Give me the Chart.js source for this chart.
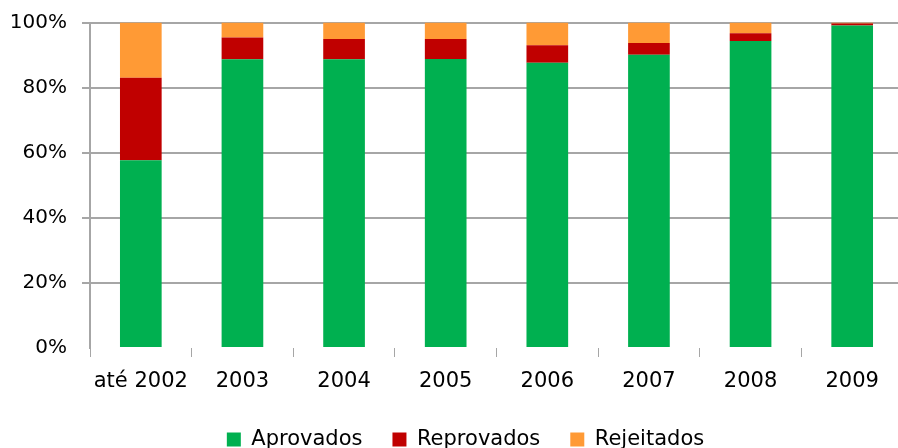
<!DOCTYPE html>
<html>
<head>
<meta charset="utf-8">
<script src="https://cdn.jsdelivr.net/npm/chart.js@4/dist/chart.umd.min.js"></script>
<style>
  html, body { margin: 0; padding: 0; background: #fff; overflow: hidden; }
  #wrap { width: 898px; height: 448px; overflow: hidden; }
</style>
</head>
<body>
<div id="wrap"><canvas id="chart" width="903" height="470"></canvas></div>
<script>
// Data (percent of each year)
const categories = ['até 2002', '2003', '2004', '2005', '2006', '2007', '2008', '2009'];
const aprovados  = [57.7, 88.7, 88.7, 88.8, 87.6, 90.1, 94.3, 99.1];
const reprovados = [25.3, 6.7, 6.2, 6.1, 5.4, 3.6, 2.4, 0.6];
const rejeitados = [17.0, 4.6, 5.1, 5.1, 7.0, 6.3, 3.3, 0.3];
const yTicks = [0, 20, 40, 60, 80, 100];

const gridGray = '#a6a6a6';
const font = 'DejaVu Sans';

// legend sits a little right of the canvas centre in the original
const legendShift = {
    id: 'legendShift',
    afterLayout: function(chart) {
        chart.legend.left += 14;
        chart.legend.right += 14;
    }
};

const ctx = document.getElementById('chart').getContext('2d');
new Chart(ctx, {
    type: 'bar',
    data: {
        labels: categories,
        datasets: [{
            label: 'Aprovados',
            data: aprovados,
            backgroundColor: '#00B050'
        }, {
            label: 'Reprovados',
            data: reprovados,
            backgroundColor: '#C00000'
        }, {
            label: 'Rejeitados',
            data: rejeitados,
            backgroundColor: '#FF9A35'
        }]
    },
    plugins: [legendShift],
    options: {
        responsive: false,
        animation: false,
        categoryPercentage: 1,
        barPercentage: 0.41,
        layout: {
            padding: { top: 14, left: 0, right: 0, bottom: 10 }
        },
        plugins: {
            tooltip: { enabled: false },
            legend: {
                position: 'bottom',
                labels: {
                    boxWidth: 14,
                    boxHeight: 14,
                    padding: 30,
                    color: '#000',
                    font: { family: font, size: 21 }
                }
            }
        },
        scales: {
            x: {
                stacked: true,
                afterFit: function(scale) { scale.height = 51; },
                border: { display: false },
                grid: {
                    offset: true,
                    drawOnChartArea: false,
                    drawTicks: true,
                    tickLength: 9,
                    color: gridGray,
                    lineWidth: 1
                },
                ticks: {
                    padding: 12,
                    color: '#000',
                    font: { family: font, size: 21 }
                }
            },
            y: {
                stacked: true,
                min: 0,
                max: 100,
                afterFit: function(scale) { scale.width = 90; },
                afterBuildTicks: function(scale) {
                    scale.ticks = yTicks.map(function(v) { return { value: v }; });
                },
                border: { display: true, color: gridGray, width: 2 },
                grid: {
                    color: function(c) { return c.tick && c.tick.value === 0 ? 'rgba(0,0,0,0)' : gridGray; },
                    lineWidth: 2,
                    tickLength: 8
                },
                ticks: {
                    padding: 15,
                    color: '#000',
                    font: { family: font, size: 20, lineHeight: 0.75 },
                    callback: function(v) { return v + '%'; }
                }
            }
        }
    }
});
</script>
</body>
</html>
